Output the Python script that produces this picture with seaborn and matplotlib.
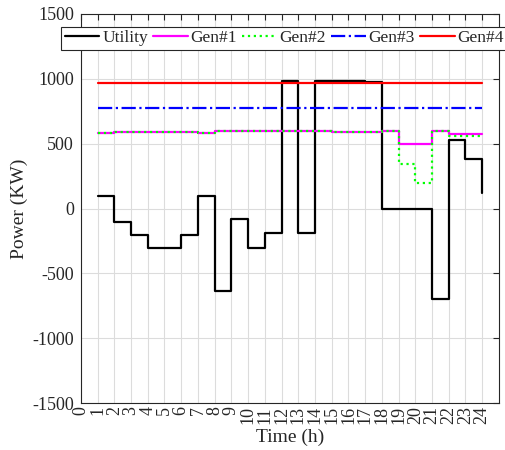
import numpy as np
import pandas as pd
import seaborn as sns
import matplotlib.pyplot as plt

#%% data
hours = list(range(1, 25))
utility = [100, -100, -200, -300, -300, -200, 100, -635, -80, -300, -190, 985,
           -190, 985, 985, 980, 975, 0, 0, 0, -700, 525, 380, 120]
gen1 = [580, 590, 590, 590, 590, 590, 580, 595, 595, 595, 595, 595,
        595, 595, 592, 590, 588, 595, 500, 500, 600, 575, 575, 575]
gen2 = [580, 590, 590, 590, 590, 590, 580, 595, 595, 595, 595, 595,
        595, 595, 592, 590, 588, 595, 345, 195, 600, 560, 560, 560]
gen3 = [772] * 24
gen4 = [968] * 24

series = ['Utility', 'Gen#1', 'Gen#2', 'Gen#3', 'Gen#4']
colors = ['black', 'magenta', '#00ff00', 'blue', 'red']
styles = ['-', '-', ':', '-.', '-']

df = pd.DataFrame({'hour': hours, 'Utility': utility, 'Gen#1': gen1,
                   'Gen#2': gen2, 'Gen#3': gen3, 'Gen#4': gen4})
dfLong = df.melt(id_vars='hour', var_name='source', value_name='power')

#%% plot settings
sns.set_style("whitegrid")
plt.rcParams['font.family'] = ['Liberation Serif', 'DejaVu Serif']
plt.rcParams['axes.unicode_minus'] = False

fig = plt.figure(figsize=(5.05, 4.5), dpi=100)
ax = fig.add_axes([0.160, 0.104, 0.828, 0.865])

for name, col, ls in zip(series, colors, styles):
    sns.lineplot(data=dfLong[dfLong.source == name], x='hour', y='power', ax=ax,
                 color=col, linestyle=ls, linewidth=1.6, drawstyle='steps-post',
                 label=name, estimator=None)

ax.set_xlim(0, 25)
ax.set_ylim(-1500, 1500)
ax.set_xticks(range(0, 25))
ax.set_xticklabels([str(i) for i in range(0, 25)], rotation=90)
ax.set_yticks(range(-1500, 1501, 500))
ax.tick_params(axis='both', direction='in', labelsize=13, length=4, width=0.8,
               top=True, right=True, colors='#262626', pad=2)
ax.tick_params(axis='y', pad=5)
ax.grid(True, color='#dcdcdc', linewidth=0.8)
for sp in ax.spines.values():
    sp.set_color('#262626')
    sp.set_linewidth(0.8)
ax.set_xlabel('Time (h)', fontsize=14, labelpad=3)
ax.set_ylabel('Power (KW)', fontsize=14, labelpad=3)

leg = ax.legend(loc='center', bbox_to_anchor=(0.563, 0.915), bbox_transform=fig.transFigure,
                ncol=5, fontsize=12.5, frameon=True, fancybox=False, edgecolor='#262626',
                handlelength=2.0, handletextpad=0.15, columnspacing=0.3,
                borderpad=0.2, borderaxespad=0)
leg.get_frame().set_linewidth(0.8)
leg.get_frame().set_alpha(1)

plt.savefig('out.png', dpi=100)
plt.close()
